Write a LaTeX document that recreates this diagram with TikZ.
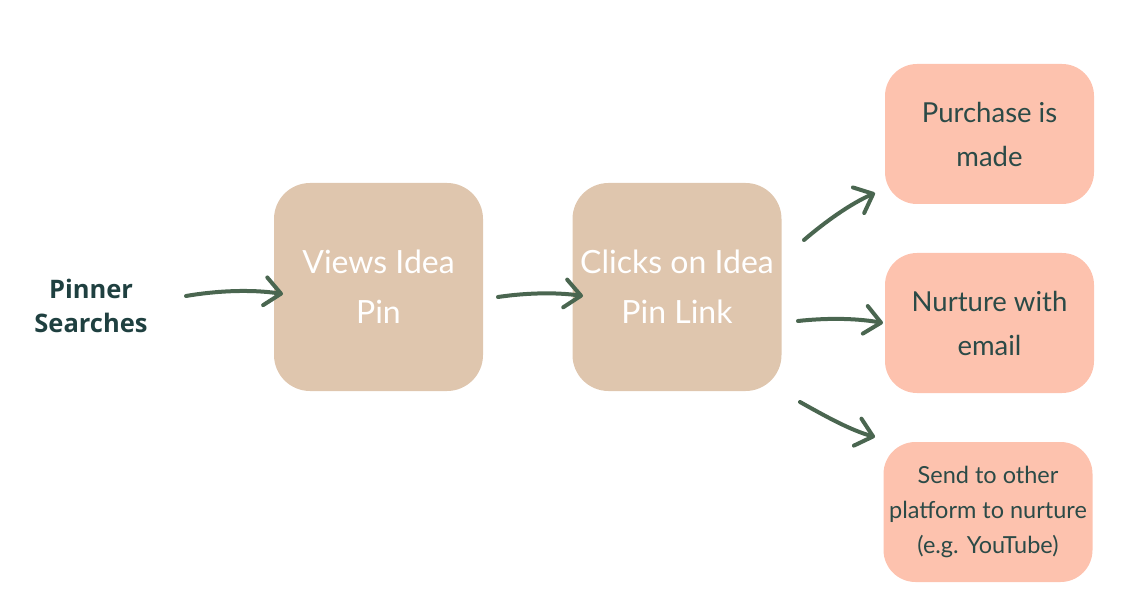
\documentclass[tikz,border=0pt]{standalone}
\usepackage{fontspec}
\setmainfont{Lato}
\newfontfamily\boldsans{Open Sans}
\usetikzlibrary{arrows.meta}
\definecolor{tan}{HTML}{DFC6AE}
\definecolor{salmon}{HTML}{FDC2AE}
\definecolor{tealtext}{HTML}{2B4A47}
\definecolor{pinner}{HTML}{1F4040}
\definecolor{arrowgreen}{HTML}{4A6650}
\tikzset{
  tanbox/.style={fill=tan, rounded corners=36pt, minimum width=209pt, minimum height=208pt, text=white, align=center, font=\fontsize{32}{50}\selectfont, inner sep=0pt},
  salbox/.style={fill=salmon, rounded corners=32pt, minimum width=209pt, minimum height=140pt, text=tealtext, align=center, font=\fontsize{27.5}{44}\selectfont, inner sep=0pt},
  flow/.style={draw=arrowgreen, line width=4pt, line cap=round, line join=round, -{Straight Barb[length=16pt,width=28pt,line cap=round,line join=round]}}
}
\begin{document}
\begin{tikzpicture}[x=1pt,y=-1pt]
\useasboundingbox (0,0) rectangle (1145,593);
\node[font=\boldsans\bfseries\fontsize{25.5}{34}\selectfont, text=pinner, align=center] (ps) at (91,306) {Pinner\\Searches};
\node[tanbox] (v) at (378.5,287) {Views Idea\\Pin};
\node[tanbox] (c) at (677,287) {Clicks on Idea\\Pin Link};
\node[salbox] (p) at (989.5,134) {Purchase is\\made};
\node[salbox] (n) at (989.5,323) {Nurture with\\email};
\node[salbox, font=\fontsize{23.5}{35}\selectfont] (s) at (988,512) {Send to other\\platform to nurture\\(e.g. YouTube)};
\coordinate (a1s) at (186,296);
\coordinate (a1e) at (283,294);
\coordinate (a2s) at (498,297);
\coordinate (a2e) at (583,296);
\coordinate (a3s) at (804,240);
\coordinate (a3e) at (875,193);
\coordinate (a4s) at (798,321);
\coordinate (a4e) at (883,323);
\coordinate (a5s) at (800,402);
\coordinate (a5e) at (875,437);
\draw[flow] (a1s) .. controls (215,291) and (250,289) .. (a1e);
\draw[flow] (a2s) .. controls (525,293) and (555,292) .. (a2e);
\draw[flow] (a3s) .. controls (825,222) and (850,204) .. (a3e);
\draw[flow] (a4s) .. controls (825,318) and (855,318) .. (a4e);
\draw[flow] (a5s) .. controls (825,416) and (850,430) .. (a5e);
\end{tikzpicture}
\end{document}
